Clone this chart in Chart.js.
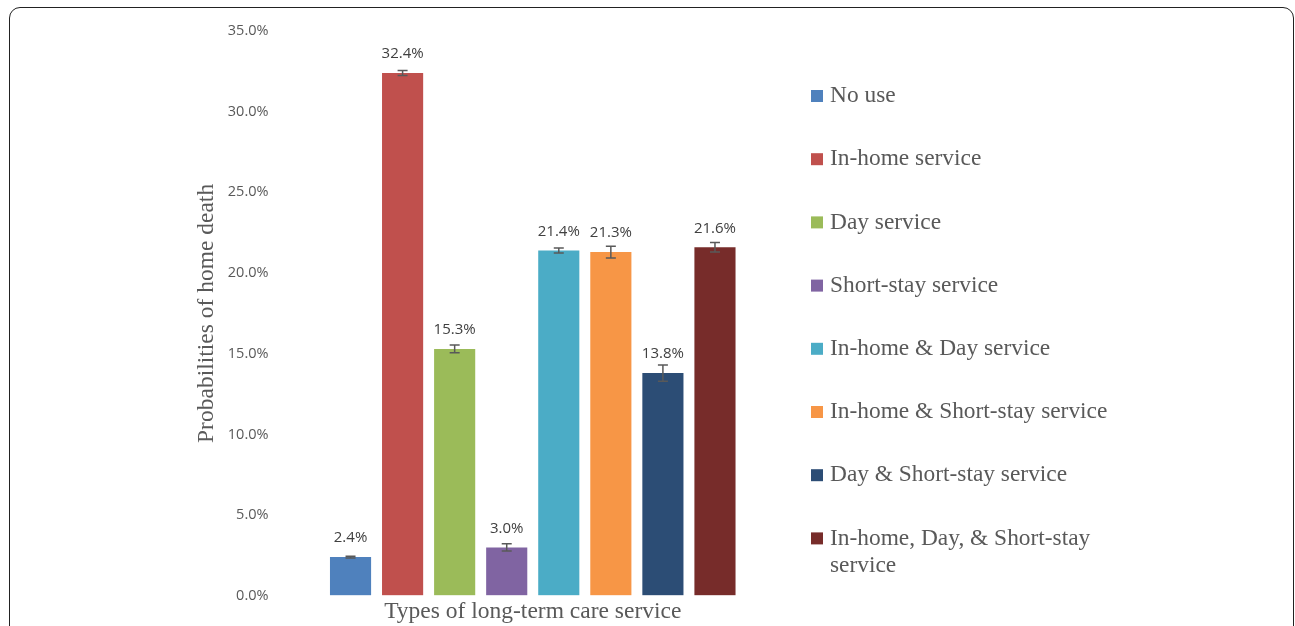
<!DOCTYPE html>
<html>
<head>
<meta charset="utf-8">
<script src="https://cdn.jsdelivr.net/npm/chart.js@4.4.1/dist/chart.umd.min.js"></script>
<style>
  html, body { margin: 0; padding: 0; background: #fff; overflow: hidden; }
  #wrap { position: relative; width: 1295px; height: 626px; }
  #frame { position: absolute; left: 9px; top: 7px; width: 1285px; height: 660px;
           border: 1.5px solid #222; border-radius: 11px; box-sizing: border-box; }
  canvas { position: absolute; left: 0; top: 0; }
</style>
</head>
<body>
<div id="wrap">
  <div id="frame"></div>
  <canvas id="myChart" width="1295" height="626"></canvas>
</div>
<script>
const categories = [
    'No use',
    'In-home service',
    'Day service',
    'Short-stay service',
    'In-home & Day service',
    'In-home & Short-stay service',
    'Day & Short-stay service',
    ['In-home, Day, & Short-stay', 'service']
];
const probabilities = [2.4, 32.4, 15.3, 3.0, 21.4, 21.3, 13.8, 21.6];
const errors = [0.05, 0.15, 0.24, 0.23, 0.16, 0.36, 0.5, 0.29];
const barColors = ['#4F81BD', '#C0504D', '#9BBB59', '#8064A2', '#4BACC6', '#F79646', '#2C4D75', '#772C2A'];
const yTicks = [0, 5, 10, 15, 20, 25, 30, 35];

const grey = '#595959';
const sans = "'Open Sans', 'Liberation Sans', sans-serif";
const serif = "'Liberation Serif', 'DejaVu Serif', serif";

// error bars + value labels on top of bars
const barExtras = {
    id: 'barExtras',
    afterDatasetsDraw(chart) {
        const ctx = chart.ctx;
        const y = chart.scales.y;
        const meta = chart.getDatasetMeta(0);
        ctx.save();
        meta.data.forEach((bar, i) => {
            const v = probabilities[i];
            const e = errors[i];
            const yTop = y.getPixelForValue(v + e);
            const yBot = y.getPixelForValue(v - e);
            ctx.strokeStyle = grey;
            ctx.lineWidth = 1.5;
            ctx.beginPath();
            ctx.moveTo(bar.x, yTop); ctx.lineTo(bar.x, yBot);
            ctx.moveTo(bar.x - 5, yTop); ctx.lineTo(bar.x + 5, yTop);
            ctx.moveTo(bar.x - 5, yBot); ctx.lineTo(bar.x + 5, yBot);
            ctx.stroke();

            ctx.fillStyle = '#404040';
            ctx.font = '15px ' + sans;
            ctx.textAlign = 'center';
            ctx.textBaseline = 'middle';
            ctx.fillText(v.toFixed(1) + '%', bar.x, y.getPixelForValue(v) - 19);
        });
        ctx.restore();
    }
};

// legend on the right, one entry per category
const sideLegend = {
    id: 'sideLegend',
    afterDraw(chart) {
        const ctx = chart.ctx;
        const left = chart.chartArea.right + 70;
        const top = 96;
        const step = 63.2;
        ctx.save();
        ctx.font = '23.4px ' + serif;
        ctx.textBaseline = 'middle';
        ctx.textAlign = 'left';
        categories.forEach((c, i) => {
            const cy = top + i * step;
            ctx.fillStyle = barColors[i];
            ctx.fillRect(left, cy - 6, 12, 12);
            ctx.fillStyle = grey;
            const lines = Array.isArray(c) ? c : [c];
            lines.forEach((t, j) => ctx.fillText(t, left + 19, cy + j * 27));
        });
        ctx.restore();
    }
};

const ctx = document.getElementById('myChart').getContext('2d');
const myChart = new Chart(ctx, {
    type: 'bar',
    data: {
        labels: categories,
        datasets: [{
            label: 'Probabilities of home death',
            data: probabilities,
            backgroundColor: barColors,
            borderWidth: 0,
            categoryPercentage: 1,
            barPercentage: 0.79
        }]
    },
    options: {
        responsive: false,
        animation: false,
        layout: {
            padding: { left: 189, right: 554, top: 31, bottom: 0 }
        },
        scales: {
            x: {
                ticks: { display: false },
                grid: { display: false, drawTicks: false },
                border: { display: false },
                title: {
                    display: true,
                    text: 'Types of long-term care service',
                    color: grey,
                    font: { size: 23.5, family: serif },
                    padding: { top: 2, bottom: 0 }
                }
            },
            y: {
                min: 0,
                max: 35,
                afterBuildTicks: axis => {
                    axis.ticks = yTicks.map(v => ({ value: v }));
                },
                afterFit: axis => { axis.width = 135.5; },
                ticks: {
                    color: grey,
                    padding: 0,
                    font: { size: 14.5, family: sans },
                    callback: v => v.toFixed(1) + '%'
                },
                grid: {
                    display: true,
                    drawOnChartArea: false,
                    drawTicks: true,
                    tickLength: 56,
                    color: 'rgba(0,0,0,0)'
                },
                border: { display: false },
                title: {
                    display: true,
                    text: 'Probabilities of home death',
                    color: grey,
                    font: { size: 23.5, family: serif },
                    padding: { top: 4, bottom: 4 }
                }
            }
        },
        plugins: {
            legend: { display: false },
            tooltip: { enabled: false }
        }
    },
    plugins: [barExtras, sideLegend]
});
</script>
</body>
</html>
